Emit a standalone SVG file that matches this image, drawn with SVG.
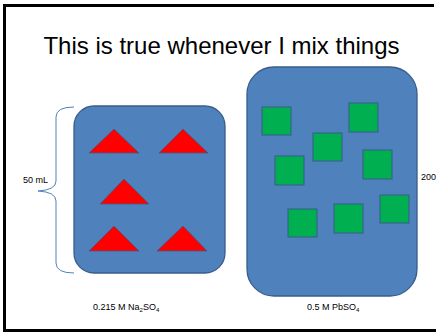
<svg xmlns="http://www.w3.org/2000/svg" width="436" height="333" viewBox="0 0 436 333">
<style>
.box{fill:#4F81BD;stroke:#385D8A;stroke-width:1.3}
.tri{fill:#FF0000;stroke:#385D8A;stroke-width:0.8}
.sq{fill:#00B050;stroke:#385D8A;stroke-width:1}
.lbl{font-family:"Liberation Sans",Arial,sans-serif;font-size:9px;fill:#000}
.title{font-family:"Liberation Sans",Arial,sans-serif;font-size:24px;fill:#000}
</style>
<rect width="436" height="333" fill="#fff"/>
<path d="M434,5.5 H4.5 V330.5 H436" fill="none" stroke="#000" stroke-width="3"/>
<text class="title" x="221.5" y="54" text-anchor="middle">This is true whenever I mix things</text>
<g id="left-container">
<rect class="box" x="74" y="106" width="151" height="167" rx="20" ry="20"/>
<polygon class="tri" points="89,153 139,153 114,129"/>
<polygon class="tri" points="159,153 208,153 183,129"/>
<polygon class="tri" points="100,204 149,204 124,179"/>
<polygon class="tri" points="89,251 139,251 114,226"/>
<polygon class="tri" points="157,251 207,251 183,226"/>
</g>
<g id="right-container">
<rect class="box" x="247" y="67" width="170" height="229" rx="27" ry="27"/>
<rect class="sq" x="262" y="107" width="29" height="28"/>
<rect class="sq" x="349" y="103" width="29" height="29"/>
<rect class="sq" x="313" y="133" width="29" height="28"/>
<rect class="sq" x="275" y="156" width="29" height="29"/>
<rect class="sq" x="363" y="150" width="29" height="29"/>
<rect class="sq" x="380" y="195" width="29" height="28"/>
<rect class="sq" x="288" y="209" width="29" height="28"/>
<rect class="sq" x="334" y="204" width="29" height="29"/>
</g>
<g id="connectors">
<path d="M74,107 Q56,107 56,117 L56,181 Q56,190 38,191 Q56,192 56,201 L56,263 Q56,273 74,273" fill="none" stroke="#4F81BD" stroke-width="1"/>
</g>
<g id="labels">
<text class="lbl" x="23" y="183">50 mL</text>
<text class="lbl" x="93" y="310">0.215 M Na<tspan font-size="6" dy="2">2</tspan><tspan dy="-2">SO</tspan><tspan font-size="6" dy="2">4</tspan></text>
<text class="lbl" x="307" y="310">0.5 M PbSO<tspan font-size="6" dy="2">4</tspan></text>
<text class="lbl" x="421" y="180">200</text>
</g>
</svg>
